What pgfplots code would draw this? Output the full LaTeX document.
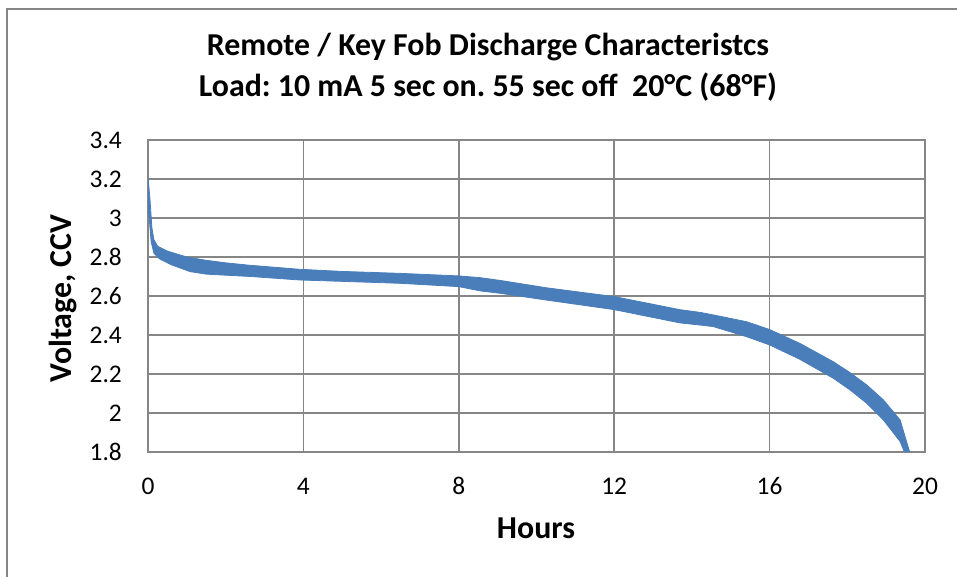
\documentclass[border=0pt]{standalone}
\usepackage{pgfplots}
\pgfplotsset{compat=1.18}
\usepackage{fontspec}
\setmainfont{Carlito}
\definecolor{serblue}{RGB}{74,126,187}
\definecolor{gridgray}{RGB}{134,134,134}
\frenchspacing
\begin{document}
\begin{tikzpicture}[x=1bp,y=1bp]
\useasboundingbox (0,0) rectangle (957,577);
\draw[gridgray, line width=1.2bp] (7,-10) -- (7,568) -- (970,568);
\begin{axis}[
  at={(148bp,125bp)}, anchor=south west,
  scale only axis, width=777bp, height=312bp,
  xmin=0, xmax=20, ymin=1.8, ymax=3.4,
  xtick={0,4,8,12,16,20},
  ytick={1.8,2,2.2,2.4,2.6,2.8,3,3.2,3.4},
  yticklabels={1.8,2,2.2,2.4,2.6,2.8,3,3.2,3.4},
  /pgf/number format/assume math mode=true,
  grid=major,
  major grid style={gridgray, line width=1.6bp},
  axis line style={gridgray, line width=1.6bp},
  tick style={draw=none},
  ticklabel style={font=\fontsize{25.5}{30}\selectfont, inner sep=0pt},
  xticklabel style={anchor=base, yshift=-42.3bp},
  yticklabel style={anchor=east, xshift=-26bp},
  clip=true,
]
\addplot[draw=serblue, fill=serblue, line width=0.8bp] coordinates {
 (0,3.21) (0.05,3.10) (0.10,2.95) (0.15,2.89) (0.25,2.855) (0.5,2.83) (1.0,2.80)
 (1.5,2.783) (2.0,2.77) (2.6,2.758) (3.9,2.737) (5.0,2.726) (6.5,2.716) (8.0,2.703)
 (8.55,2.694) (9.06,2.680) (10.26,2.642) (12.0,2.597) (13.69,2.530) (14.21,2.516)
 (14.55,2.503) (15.41,2.468) (16.0,2.428) (16.78,2.357) (17.64,2.263) (18.07,2.207)
 (18.5,2.144) (18.93,2.067) (19.36,1.964) (19.62,1.79)
 (19.49,1.79) (19.36,1.853) (18.93,1.964) (18.5,2.05) (18.07,2.118) (17.64,2.178)
 (16.78,2.275) (16.0,2.349) (15.41,2.391) (14.55,2.443) (14.21,2.451) (13.69,2.462)
 (12.0,2.530) (10.26,2.579) (9.06,2.614) (8.55,2.626) (8.0,2.648) (6.49,2.665)
 (5.0,2.675) (3.91,2.682) (2.63,2.700) (1.5,2.712) (1.08,2.725) (0.6,2.76)
 (0.3,2.79) (0.15,2.82) (0.08,2.88) (0.03,3.0) (0,3.05)
} -- cycle;
\end{axis}
\node[font=\bfseries\fontsize{32}{38}\selectfont] at (488,530) {Remote / Key Fob Discharge Characteristcs};
\node[font=\bfseries\fontsize{32}{38}\selectfont] at (488,490) {Load: 10 mA 5 sec on. 55 sec off\ \ 20°C (68°F)};
\node[font=\bfseries\fontsize{32}{38}\selectfont, anchor=base, inner sep=0pt] at (536,38.7) {Hours};
\node[font=\bfseries\fontsize{32}{38}\selectfont, rotate=90, anchor=base, inner sep=0pt] at (71,278.5) {Voltage, CCV};
\end{tikzpicture}
\end{document}
